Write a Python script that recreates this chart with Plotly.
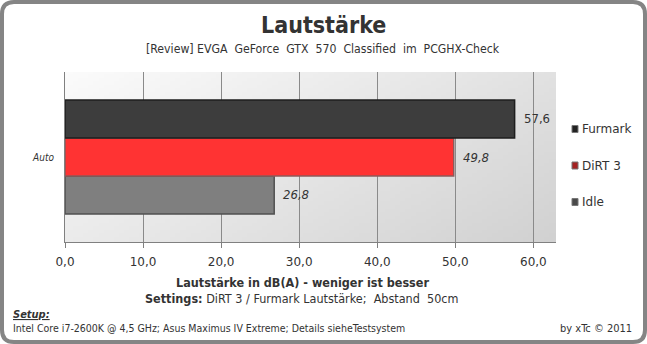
import zlib, struct, base64
import plotly.graph_objects as go

# ---------------- data ----------------
categories = ["Auto"]
series_names = ["Furmark", "DiRT 3", "Idle"]          # top to bottom
series_values = [[57.6], [49.8], [26.8]]
series_colors = ["#3d3d3d", "#ff3333", "#7f7f7f"]
series_lines = ["#1e1e1e", "#8e5a5a", "#505050"]
legend_colors = ["#222222", "#a52222", "#4a4a4a"]
label_italic = [False, True, True]
x_tickvals = [0, 10, 20, 30, 40, 50, 60]

title_text = "Lautstärke"
subtitle_text = "[Review] EVGA  GeForce  GTX  570  Classified  im  PCGHX-Check"
xaxis_title = "Lautstärke in dB(A) - weniger ist besser"
settings_text = "<b>Settings:</b> DiRT 3 / Furmark Lautstärke;  Abstand  50cm"
setup_title = "<b><i><u>Setup:</u></i></b>"
setup_text = "Intel Core i7-2600K @ 4,5 GHz; Asus Maximus IV Extreme; Details sieheTestsystem"
credit_text = "by xTc © 2011"

# ---------------- geometry helpers ----------------
W, H = 647, 344
L, R, T, B = 65, 556, 72, 242
def px(x): return (x - L) / (R - L)
def py(y): return (B - y) / (B - T)

FONT = "DejaVu Sans Condensed"
TXT = "#333333"

# ---------------- background gradient PNG ----------------
def make_png(w, h):
    rows = []
    for j in range(h):
        v = j / (h - 1)
        row = bytearray([0])
        for i in range(w):
            u = i / (w - 1)
            c = int(round(251 - 26 * u - 16 * v))
            row += bytes([c, c, c])
        rows.append(bytes(row))
    raw = b"".join(rows)
    def chunk(t, d):
        return struct.pack(">I", len(d)) + t + d + struct.pack(">I", zlib.crc32(t + d) & 0xffffffff)
    png = b"\x89PNG\r\n\x1a\n"
    png += chunk(b"IHDR", struct.pack(">IIBBBBB", w, h, 8, 2, 0, 0, 0))
    png += chunk(b"IDAT", zlib.compress(raw, 9))
    png += chunk(b"IEND", b"")
    return "data:image/png;base64," + base64.b64encode(png).decode()

fig = go.Figure()

# bars: plotly places the first trace at the bottom of the group
for idx in reversed(range(len(series_names))):
    fig.add_trace(go.Bar(
        y=categories, x=series_values[idx], name=series_names[idx], orientation="h",
        marker=dict(color=series_colors[idx], line=dict(color=series_lines[idx], width=1.5)),
        showlegend=False, hoverinfo="x+name",
    ))

annotations = []
bar_px = (B - T) * (1 - 0.33) / len(series_names)
for idx, name in enumerate(series_names):
    v = series_values[idx][0]
    s = f"{v:.1f}".replace(".", ",")
    if label_italic[idx]:
        s = f"<i>{s}</i>"
    annotations.append(dict(
        x=v, y=categories[0], xref="x", yref="y", text=s, showarrow=False,
        xanchor="left", yanchor="middle", xshift=7,
        yshift=(1 - idx) * bar_px + (1 if idx == 0 else 0),
        font=dict(family=FONT, size=13, color=TXT),
    ))

# legend (custom)
shapes = []
for idx, name in enumerate(series_names):
    yc = 129 + idx * 36.5
    shapes.append(dict(type="rect", xref="paper", yref="paper",
                       x0=px(572), x1=px(578), y0=py(yc + 3.5), y1=py(yc - 3.5),
                       fillcolor=legend_colors[idx], line=dict(color="#777777", width=1)))
    annotations.append(dict(x=px(580), y=py(yc), xref="paper", yref="paper", text=name,
                            showarrow=False, xanchor="left", yanchor="middle",
                            font=dict(family="DejaVu Sans", size=12, color=TXT)))

# rounded outer border
r = 12
x0, y0, x1, y1 = 2, 2, 645, 342
path = (f"M {px(x0 + r)},{py(y0)} L {px(x1 - r)},{py(y0)} Q {px(x1)},{py(y0)} {px(x1)},{py(y0 + r)} "
        f"L {px(x1)},{py(y1 - r)} Q {px(x1)},{py(y1)} {px(x1 - r)},{py(y1)} "
        f"L {px(x0 + r)},{py(y1)} Q {px(x0)},{py(y1)} {px(x0)},{py(y1 - r)} "
        f"L {px(x0)},{py(y0 + r)} Q {px(x0)},{py(y0)} {px(x0 + r)},{py(y0)} Z")
shapes.append(dict(type="path", xref="paper", yref="paper", path=path,
                   line=dict(color="#858585", width=4), layer="above"))

# texts
def txt(x, y, text, size, xanchor="center", bold=False, family=FONT):
    annotations.append(dict(x=px(x), y=py(y), xref="paper", yref="paper",
                            text=f"<b>{text}</b>" if bold else text, showarrow=False,
                            xanchor=xanchor, yanchor="middle",
                            font=dict(family=family, size=size, color=TXT)))

txt(323, 25, title_text, 23, bold=True)
txt(323, 49, subtitle_text, 12.2)
txt(302, 282, xaxis_title, 12.5, bold=True)
txt(301, 298, settings_text, 12.5)
txt(11, 314, setup_title, 11, xanchor="left")
txt(11, 328, setup_text, 10.5, xanchor="left")
txt(634, 328, credit_text, 11, xanchor="right")

fig.update_layout(
    width=W, height=H,
    margin=dict(l=L, r=W - R, t=T, b=H - B),
    paper_bgcolor="white", plot_bgcolor="rgba(0,0,0,0)",
    barmode="group", bargap=0.33, bargroupgap=0,
    separators=",.",
    showlegend=False,
    annotations=annotations, shapes=shapes,
    images=[dict(source=make_png(96, 48), xref="paper", yref="paper", x=0, y=1,
                 sizex=1, sizey=1, sizing="stretch", layer="below", xanchor="left", yanchor="top")],
    xaxis=dict(range=[0, 62.9], tickvals=x_tickvals, tickformat=".1f",
               showgrid=True, gridcolor="#8a8a8a", gridwidth=1,
               showline=True, linecolor="#808080", linewidth=1,
               ticks="outside", ticklen=5, tickcolor="#808080", ticklabelstandoff=4,
               tickfont=dict(family="DejaVu Sans", size=12, color=TXT),
               zeroline=False, fixedrange=True),
    yaxis=dict(tickvals=categories, ticktext=[f"<i>{c}</i>" for c in categories],
               showline=True, linecolor="#808080", linewidth=1, mirror=False,
               showgrid=False, ticks="", ticklabelstandoff=8,
               tickfont=dict(family=FONT, size=10, color=TXT), fixedrange=True),
)

fig.write_html("out.html", config={"displayModeBar": False})
